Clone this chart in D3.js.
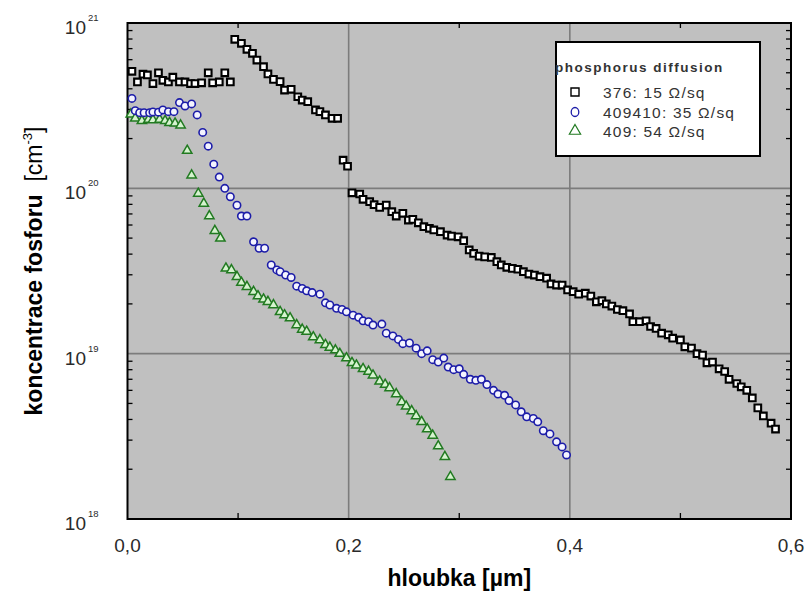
<!DOCTYPE html>
<html>
<head>
<meta charset="utf-8">
<script src="https://cdn.jsdelivr.net/npm/d3@7"></script>
<style>
  body { margin: 0; background: #fff; }
  svg { display: block; font-family: "Liberation Sans", Arial, sans-serif; }
</style>
</head>
<body>
<svg id="chart" width="807" height="591"></svg>
<script>
// phosphorus profiles, depth in um, concentration in cm^-3
const depth376 = [0.004,0.009,0.014,0.018,0.023,0.028,0.032,0.037,0.041,0.047,0.052,0.057,0.061,0.067,0.073,0.077,0.083,0.088,0.093,
  0.097,0.103,0.108,0.113,0.117,0.123,0.127,0.132,0.138,0.142,0.148,0.154,0.158,0.163,0.170,0.174,0.179,0.185,0.190,
  0.195,0.199,
  0.203,0.210,0.213,0.219,0.223,0.228,0.234,0.239,0.243,0.249,0.254,0.258,0.263,0.268,0.273,0.277,0.283,0.289,0.293,0.299,
  0.304,0.309,0.313,0.318,0.323,0.329,0.334,0.338,0.343,0.348,0.353,0.358,0.363,0.368,0.373,0.379,0.383,0.388,0.393,0.398,
  0.403,0.408,0.414,0.419,0.424,
  0.429,0.433,0.438,0.443,0.448,0.454,0.457,0.463,0.469,0.473,0.478,0.483,0.489,0.493,0.500,0.504,0.510,0.515,0.520,0.524,
  0.529,0.535,0.540,0.544,0.551,0.555,0.560,0.565,0.570,0.575,0.582,0.586];
const conc376 = [5.1e20,4.4e20,4.9e20,4.85e20,4.3e20,5.0e20,4.5e20,4.4e20,4.7e20,4.4e20,4.4e20,4.3e20,4.3e20,4.35e20,5.0e20,4.35e20,4.4e20,5.0e20,4.4e20,
  7.97e20,7.54e20,6.93e20,6.56e20,5.97e20,5.44e20,4.92e20,4.56e20,4.42e20,3.93e20,3.97e20,3.58e20,3.42e20,3.34e20,2.98e20,2.91e20,2.78e20,2.65e20,2.65e20,
  1.48e20,1.36e20,
  9.40e19,9.24e19,8.58e19,8.30e19,7.96e19,7.67e19,7.92e19,7.22e19,6.80e19,7.06e19,6.43e19,6.49e19,6.19e19,5.86e19,5.73e19,5.60e19,5.47e19,5.22e19,5.14e19,5.09e19,
  4.82e19,4.24e19,4.04e19,3.89e19,3.85e19,3.82e19,3.60e19,3.44e19,3.33e19,3.28e19,3.24e19,3.13e19,3.03e19,2.99e19,2.92e19,2.86e19,2.64e19,2.60e19,2.60e19,2.43e19,
  2.37e19,2.29e19,2.32e19,2.23e19,2.06e19,
  2.09e19,2.00e19,1.94e19,1.85e19,1.82e19,1.74e19,1.56e19,1.56e19,1.58e19,1.46e19,1.42e19,1.33e19,1.30e19,1.24e19,1.21e19,1.10e19,1.08e19,1.00e19,9.8e18,8.8e18,
  8.9e18,8.1e18,7.8e18,7.0e18,6.6e18,6.3e18,6.0e18,5.4e18,4.7e18,4.2e18,3.8e18,3.5e18];

const depth409410 = [0.004,0.007,0.011,0.015,0.020,0.023,0.028,0.032,0.037,0.042,0.047,0.052,0.058,0.063,0.068,0.073,0.078,0.083,0.088,0.093,
  0.099,0.103,0.108,0.114,0.119,0.124,0.130,0.135,
  0.138,0.143,0.148,0.153,0.158,0.162,0.167,0.174,0.179,0.183,0.189,0.194,0.198,0.204,0.209,0.213,0.218,0.222,0.230,0.234,0.240,0.245,
  0.249,0.255,0.261,0.266,0.271,0.276,0.281,0.286,0.290,0.295,0.300,0.304,0.310,0.315,0.320,0.325,0.331,0.335,0.341,0.345,
  0.351,0.356,0.361,0.367,0.371,0.376,0.382,0.388,0.393,0.397];
const conc409410 = [3.50e20,2.95e20,2.87e20,2.87e20,2.87e20,2.90e20,2.89e20,2.98e20,2.91e20,2.91e20,3.30e20,3.15e20,3.24e20,2.78e20,2.18e20,1.80e20,1.40e20,1.17e20,1.00e20,8.9e19,
  7.9e19,6.8e19,6.8e19,4.75e19,4.34e19,4.34e19,3.44e19,3.21e19,
  3.13e19,2.99e19,2.89e19,2.56e19,2.48e19,2.40e19,2.34e19,2.29e19,2.03e19,1.97e19,1.88e19,1.85e19,1.79e19,1.71e19,1.66e19,1.58e19,1.56e19,1.49e19,1.51e19,1.33e19,1.28e19,1.22e19,
  1.15e19,1.16e19,1.08e19,1.00e19,1.04e19,9.2e18,8.9e18,9.4e18,8.3e18,8.0e18,8.1e18,7.5e18,7.0e18,6.9e18,7.0e18,6.5e18,6.0e18,5.7e18,5.6e18,5.2e18,
  4.9e18,4.45e18,4.15e18,4.06e18,3.87e18,3.42e18,3.27e18,2.93e18,2.73e18,2.44e18];

const depth409 = [0.003,0.007,0.013,0.019,0.023,0.029,0.034,0.038,0.043,0.048,0.054,0.058,0.064,0.069,0.074,0.079,0.084,0.089,0.094,0.099,
  0.103,0.108,0.114,0.118,0.123,0.127,0.132,0.138,0.142,0.147,0.153,0.158,0.162,0.168,0.174,0.179,0.183,0.188,0.192,0.198,
  0.203,0.207,0.213,0.218,0.222,0.228,0.233,0.237,0.243,
  0.248,0.252,0.257,0.261,0.266,0.271,0.276,0.281,0.287,0.292];
const conc409 = [2.8e20,2.65e20,2.56e20,2.61e20,2.59e20,2.61e20,2.56e20,2.49e20,2.47e20,2.41e20,1.69e20,1.20e20,9.3e19,8.1e19,6.8e19,5.54e19,4.98e19,3.28e19,3.21e19,2.92e19,
  2.69e19,2.54e19,2.37e19,2.23e19,2.13e19,2.06e19,1.97e19,1.79e19,1.71e19,1.64e19,1.49e19,1.40e19,1.36e19,1.26e19,1.21e19,1.13e19,1.09e19,1.05e19,1.00e19,9.4e18,
  8.8e18,8.5e18,8.1e18,7.8e18,7.4e18,6.8e18,6.5e18,6.2e18,5.7e18,
  5.1e18,4.8e18,4.5e18,4.2e18,3.87e18,3.5e18,3.2e18,2.76e18,2.38e18,1.80e18];

const xTicks = [0, 0.2, 0.4, 0.6];
const xTickLabels = ["0,0", "0,2", "0,4", "0,6"];
const yDecades = [18, 19, 20, 21];
const legendLabels = ["376: 15 \u03A9/sq", "409410: 35 \u03A9/sq", "409: 54 \u03A9/sq"];

const svg = d3.select("#chart");
const pL = 127.5, pR = 791, pT = 23, pB = 519;

const x = d3.scaleLinear().domain([0, 0.6]).range([pL, pR]);
const y = d3.scaleLog().domain([1e18, 1e21]).range([pB, pT]);

svg.append("rect").attr("width", 807).attr("height", 591).attr("fill", "#fff");
svg.append("rect").attr("x", pL).attr("y", pT).attr("width", pR - pL).attr("height", pB - pT)
  .attr("fill", "#c0c0c0");

// grid
const grid = svg.append("g").attr("stroke", "#7c7c7c").attr("stroke-width", 1.6);
[0.2, 0.4].forEach(v => grid.append("line").attr("x1", x(v)).attr("x2", x(v)).attr("y1", pT).attr("y2", pB));
[1e19, 1e20].forEach(v => grid.append("line").attr("x1", pL).attr("x2", pR).attr("y1", y(v)).attr("y2", y(v)));

// minor ticks
const ticks = svg.append("g").attr("stroke", "#000").attr("stroke-width", 1.3);
const minor = [];
[18, 19, 20].forEach(d => { for (let m = 2; m <= 9; m++) minor.push(m * Math.pow(10, d)); });
minor.forEach(v => {
  ticks.append("line").attr("x1", pL).attr("x2", pL + 5).attr("y1", y(v)).attr("y2", y(v));
  ticks.append("line").attr("x1", pR - 5).attr("x2", pR).attr("y1", y(v)).attr("y2", y(v));
});
[0.1, 0.3, 0.5].forEach(v => {
  ticks.append("line").attr("x1", x(v)).attr("x2", x(v)).attr("y1", pB).attr("y2", pB - 6);
  ticks.append("line").attr("x1", x(v)).attr("x2", x(v)).attr("y1", pT).attr("y2", pT + 5);
});

svg.append("rect").attr("x", pL).attr("y", pT).attr("width", pR - pL).attr("height", pB - pT)
  .attr("fill", "none").attr("stroke", "#000").attr("stroke-width", 2);

// tick labels
svg.append("g").selectAll("text").data(xTicks).join("text")
  .attr("x", d => x(d)).attr("y", 552).attr("text-anchor", "middle")
  .attr("font-size", 19).attr("fill", "#2a2a2a")
  .text((d, i) => xTickLabels[i]);

const yl = svg.append("g").attr("fill", "#2a2a2a");
yDecades.forEach(d => {
  const yy = y(Math.pow(10, d));
  yl.append("text").attr("x", 86).attr("y", yy + 11).attr("text-anchor", "end").attr("font-size", 19).text("10");
  yl.append("text").attr("x", 88).attr("y", yy - 2).attr("font-size", 9.5).text(d);
});

// axis titles
svg.append("text").attr("x", (pL + pR) / 2).attr("y", 586).attr("text-anchor", "middle")
  .attr("font-size", 23).attr("font-weight", "bold").text("hloubka [\u00B5m]");

const yt = svg.append("text").attr("transform", "translate(42,271) rotate(-90)")
  .attr("text-anchor", "middle").attr("font-size", 23);
yt.append("tspan").attr("font-weight", "bold").text("koncentrace fosforu");
yt.append("tspan").text("\u00A0 [cm");
yt.append("tspan").attr("font-size", 13).attr("dy", -10).text("-3");
yt.append("tspan").attr("dy", 10).text("]");

// markers
const sq = d3.symbol().type(d3.symbolSquare).size(44);
const tri = d3.symbol().type(d3.symbolTriangle).size(38);

svg.append("g").selectAll("path").data(depth409.map((d, i) => [d, conc409[i]])).join("path")
  .attr("d", tri).attr("transform", d => `translate(${x(d[0])},${y(d[1])})`)
  .attr("fill", "#d6f3cf").attr("stroke", "#217a21").attr("stroke-width", 1.5);

svg.append("g").selectAll("circle").data(depth409410.map((d, i) => [d, conc409410[i]])).join("circle")
  .attr("cx", d => x(d[0])).attr("cy", d => y(d[1])).attr("r", 3.7)
  .attr("fill", "#f4f4ff").attr("stroke", "#1c1ca8").attr("stroke-width", 1.6);

svg.append("g").selectAll("path").data(depth376.map((d, i) => [d, conc376[i]])).join("path")
  .attr("d", sq).attr("transform", d => `translate(${x(d[0])},${y(d[1])})`)
  .attr("fill", "#fff").attr("stroke", "#000").attr("stroke-width", 2.1);

// legend
const lg = svg.append("g");
lg.append("rect").attr("x", 556).attr("y", 42).attr("width", 204).attr("height", 114)
  .attr("fill", "#fff").attr("stroke", "#000").attr("stroke-width", 2);
lg.append("text").attr("x", 555).attr("y", 72).attr("font-size", 13.5).attr("font-weight", "bold")
  .attr("letter-spacing", 1.5).attr("fill", "#333").text("phosphorus diffusion");
const rowY = [92, 112, 131];
lg.append("path").attr("d", d3.symbol().type(d3.symbolSquare).size(64)).attr("transform", `translate(575,${rowY[0]})`)
  .attr("fill", "#fff").attr("stroke", "#000").attr("stroke-width", 1.4);
lg.append("ellipse").attr("cx", 575).attr("cy", rowY[1]).attr("rx", 3.8).attr("ry", 4.5)
  .attr("fill", "#fff").attr("stroke", "#1c1ca8").attr("stroke-width", 1.3);
lg.append("path").attr("d", d3.symbol().type(d3.symbolTriangle).size(55)).attr("transform", `translate(575,${rowY[2]})`)
  .attr("fill", "#fff").attr("stroke", "#217a21").attr("stroke-width", 1.2);
lg.selectAll("text.entry").data(legendLabels).join("text").attr("class", "entry")
  .attr("x", 603).attr("y", (d, i) => rowY[i] + 6).attr("font-size", 15.5).attr("letter-spacing", 1.2)
  .attr("fill", "#333").text(d => d);
</script>
</body>
</html>
